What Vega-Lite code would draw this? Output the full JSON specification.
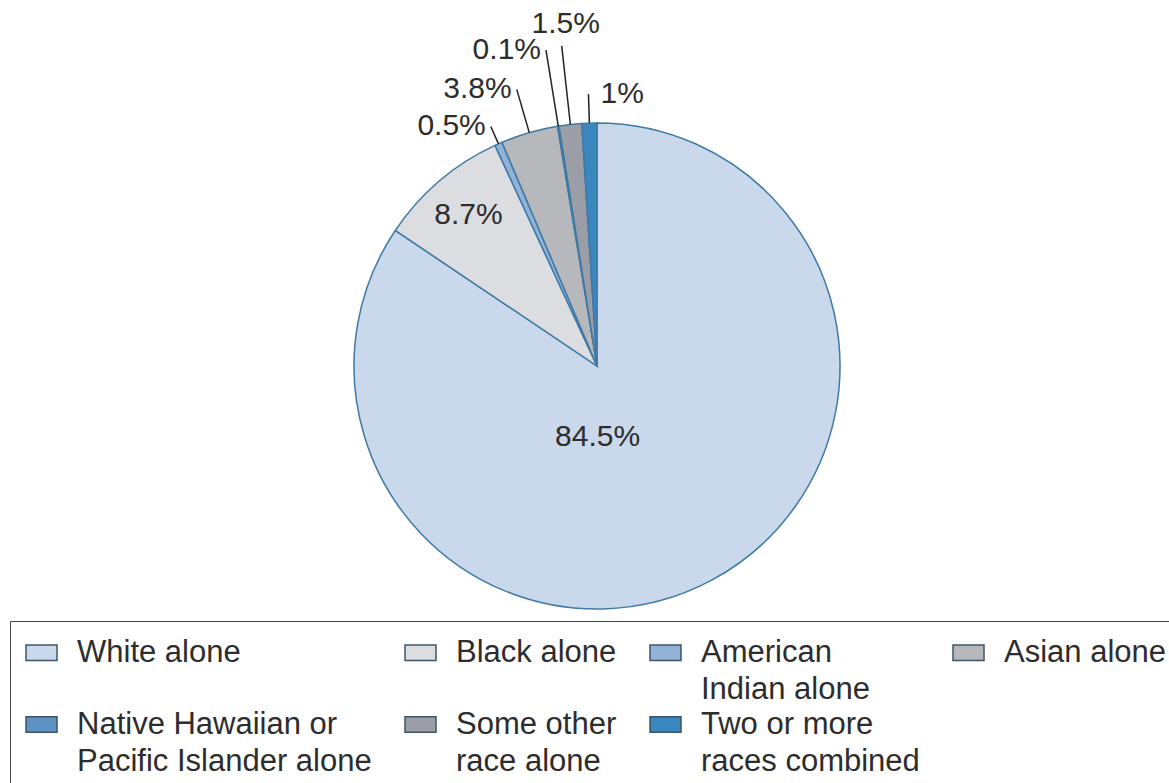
{
  "$schema": "https://vega.github.io/schema/vega-lite/v6.json",
  "autosize": "none",
  "width": 1144,
  "height": 732,
  "padding": {"left": 25, "top": 0, "right": 0, "bottom": 51},
  "background": "#ffffff",
  "config": {"view": {"stroke": null}, "font": "Liberation Sans"},
  "data": {
    "values": [
      {"race": "White alone", "share": 0.845, "rank": 1},
      {"race": "Black alone", "share": 0.087, "rank": 2},
      {"race": "American Indian alone", "share": 0.005, "rank": 3},
      {"race": "Asian alone", "share": 0.038, "rank": 4},
      {"race": "Native Hawaiian or Pacific Islander alone", "share": 0.001, "rank": 5},
      {"race": "Some other race alone", "share": 0.015, "rank": 6},
      {"race": "Two or more races combined", "share": 0.01, "rank": 7}
    ]
  },
  "encoding": {
    "theta": {"field": "share", "type": "quantitative", "stack": true},
    "order": {"field": "rank", "type": "quantitative"}
  },
  "layer": [
    {
      "mark": {"type": "arc", "outerRadius": 243, "stroke": "#3f7aa6", "strokeWidth": 1.5},
      "encoding": {
        "color": {
          "field": "race",
          "type": "nominal",
          "scale": {
            "domain": ["White alone", "Black alone", "American Indian alone", "Asian alone", "Native Hawaiian or Pacific Islander alone", "Some other race alone", "Two or more races combined"],
            "range": ["#c9d8ea", "#dcdde0", "#93b2d8", "#b6b8bc", "#5e91c4", "#9b9ea6", "#3a86bf"]
          },
          "legend": {
            "orient": "none",
            "legendX": -15,
            "legendY": 621,
            "columns": 4,
            "direction": "horizontal",
            "title": null,
            "symbolType": "M-1,-0.5H1V0.5H-1Z",
            "symbolSize": 961,
            "symbolStrokeColor": "#3d5566",
            "symbolStrokeWidth": 1.5,
            "symbolOpacity": 1,
            "labelFont": "Liberation Sans",
            "labelFontSize": 31,
            "labelColor": "#2d2d2d",
            "labelLimit": 500,
            "labelOffset": 19,
            "labelExpr": "datum.label == 'American Indian alone' ? ['American', 'Indian alone'] : datum.label == 'Native Hawaiian or Pacific Islander alone' ? ['Native Hawaiian or', 'Pacific Islander alone'] : datum.label == 'Some other race alone' ? ['Some other', 'race alone'] : datum.label == 'Two or more races combined' ? ['Two or more', 'races combined'] : [datum.label, '']",
            "columnPadding": 30,
            "rowPadding": 3,
            "padding": 15,
            "strokeColor": "#444444",
            "fillColor": "#ffffff",
            "encode": {"labels": {"update": {"lineHeight": {"value": 37}}}}
          }
        }
      }
    },
    {
      "mark": {
        "type": "arc",
        "innerRadius": 243,
        "outerRadius": {"expr": "datum.rank == 3 ? 262 : datum.rank == 4 ? 288 : datum.rank == 5 ? 320 : datum.rank == 6 ? 322 : 272"},
        "padAngle": 0.6,
        "filled": false,
        "stroke": "#222222",
        "strokeWidth": 1.5
      },
      "encoding": {
        "strokeOpacity": {"condition": {"test": "datum.rank >= 3", "value": 1}, "value": 0}
      }
    },
    {
      "mark": {
        "type": "text",
        "font": "Liberation Sans",
        "fontSize": 30,
        "fill": "#2d2d2d",
        "align": "center",
        "baseline": "middle",
        "radius": {"expr": "datum.rank == 1 ? 80 : 198"},
        "dx": {"expr": "datum.rank == 1 ? -37 : 0"}
      },
      "encoding": {
        "text": {"condition": {"test": "datum.rank <= 2", "field": "share", "type": "quantitative", "format": ".1~%"}, "value": ""}
      }
    },
    {
      "mark": {
        "type": "text",
        "font": "Liberation Sans",
        "fontSize": 30,
        "fill": "#2d2d2d",
        "radius": {"expr": "datum.rank == 3 ? 262 : datum.rank == 4 ? 288 : datum.rank == 5 ? 320 : datum.rank == 6 ? 322 : 272"},
        "align": {"expr": "datum.rank == 6 ? 'center' : datum.rank == 7 ? 'left' : 'right'"},
        "baseline": {"expr": "datum.rank == 6 ? 'bottom' : 'middle'"},
        "dx": {"expr": "datum.rank == 6 ? 4 : datum.rank == 7 ? 12 : -5"},
        "dy": {"expr": "datum.rank == 6 ? -7 : 0"}
      },
      "encoding": {
        "text": {"condition": {"test": "datum.rank >= 3", "field": "share", "type": "quantitative", "format": ".1~%"}, "value": ""}
      }
    }
  ]
}
